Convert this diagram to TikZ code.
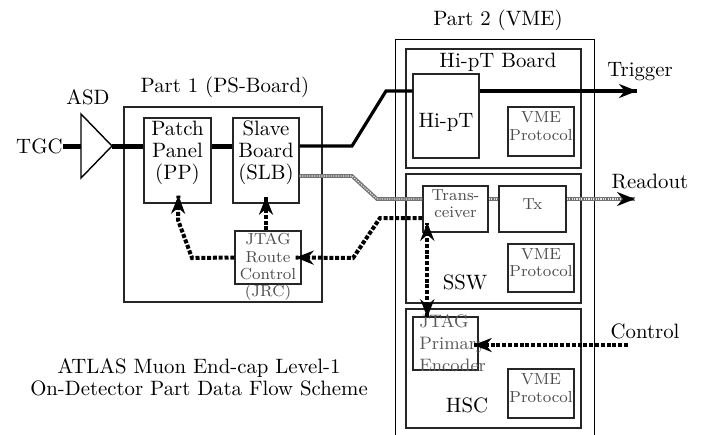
\documentclass[tikz,border=0pt]{standalone}
\usepackage{tikz}
\tikzset{endtip/.style = {decoration={markings, mark=at position 1 with {\arrow{Stealth[length=9pt,width=7pt,black]}}}, postaction={decorate}}}
\tikzset{bothtips/.style = {decoration={markings, mark=at position 0 with {\arrowreversed{Stealth[length=9pt,width=7pt,black]}}, mark=at position 1 with {\arrow{Stealth[length=9pt,width=7pt,black]}}}, postaction={decorate}}}
\tikzset{box/.style = {draw=black!85, line width=.7pt, inner sep=0pt, align=center}}
\tikzset{small/.style = {font=\fontsize{8}{8.6}\selectfont, text=black!70}}
\tikzset{sig/.style = {line width=1.6pt}}
\tikzset{jtag/.style = {line width=2pt, dash pattern=on 2pt off .9pt}}
\tikzset{rdout/.style = {draw=black!55, line width=1.8pt, postaction={draw=gray!20, line width=.6pt, dash pattern=on .6pt off .6pt}}}
\usetikzlibrary{calc,fit,arrows.meta,
                 decorations.markings}
\begin{document}
\begin{tikzpicture}[x=.5pt, y=-.5pt, font=\fontsize{10.4}{11}\selectfont]
\useasboundingbox (0,0) rectangle (717,434);
\node[box, fit={(124,107) (322,302)}] (p1) {};
\node (p1t) at (225,87) {Part 1 (PS-Board)};
\node[box, fit={(144,118) (211,203)}] (pp) {Patch\\Panel\\(PP)};
\node[box, fit={(233,118) (299,203)}] (slb) {Slave\\Board\\(SLB)};
\node[box, fit={(235,231) (301,284)}] (jrc) {};
\node[small, align=center] (jrct) at (268,267) {JTAG\\Route\\Control\\(JRC)};
\node[anchor=east, inner sep=0pt] (tgc) at (63,146) {TGC};
\draw[line width=.7pt] (81,114) -- (81,178) -- (112,146) -- cycle;
\coordinate (asdin) at (81,146);
\coordinate (asdout) at (112,146);
\node (asd) at (88,97) {ASD};
\draw (395,440) |- (594,39) -- (594,440);
\node (p2t) at (498,20) {Part 2 (VME)};
\node[box, fit={(406,49) (581,168)}] (hb) {};
\node (hbt) at (498,62) {Hi-pT Board};
\node[box, fit={(413,74) (479,158)}] (hipt) {};
\node (hiptt) at (446,122) {Hi-pT};
\node[box, small, fit={(508,107) (574,156)}] (vme1) {VME\\Protocol};
\node[box, fit={(406,174) (581,303)}] (ssw) {};
\node (sswt) at (465,282) {SSW};
\node[box, small, fit={(423,186) (488,232)}] (trans) {Trans-\\ceiver};
\node[box, small, fit={(499,186) (566,232)}] (tx) {Tx};
\node[box, small, fit={(508,244) (574,292)}] (vme2) {VME\\Protocol};
\node[box, fit={(406,309) (581,428)}] (hsc) {};
\node (hsct) at (467,405) {HSC};
\node[box, fit={(413,317) (478,370)}] (pe) {};
\node[anchor=west, align=left, font=\fontsize{9}{11}\selectfont, text=black!65] (pet) at (pe.west) {JTAG\\Primary\\Encoder};
\node[box, small, fit={(508,369) (574,418)}] (vme3) {VME\\Protocol};
\coordinate (trig) at (637,91);
\coordinate (ro) at (635,199);
\coordinate (ctl) at (628,345);
\node (trigt) at (640,72) {Trigger};
\node (rot) at (650,182) {Readout};
\node (ctlt) at (645,331) {Control};
\draw[line width=2.5pt] (tgc) -- (asdin);
\draw[line width=2.5pt] (asdout) -- (asdout -| pp.west) (pp.east |- asdout) -- (slb.west |- asdout);
\draw[sig] (slb.east |- asdout) -- (352,146) -- (386,91) -- (hipt.west |- trig);
\draw[sig, endtip] (hipt.east |- trig) -- (trig);
\draw[rdout] ($(slb.east)+(0,15.5)$) -- (352,176) -- (377,199) -- (trans.west |- ro);
\draw[rdout] (trans.east |- ro) -- (tx.west |- ro);
\draw[rdout, endtip] (tx.east |- ro) -- (ro);
\draw[jtag, endtip] ($(trans.west)+(0,9)$) -- (380,218) -- (353,258) -- ($(jrc.east)+(-6,0)$);
\draw[jtag, endtip] (jrc.west) -- (192,258) -- (178,220) -- ($(pp.south)+(1,-8)$);
\draw[jtag, endtip] (jrc.north -| slb.south) -- ($(slb.south)+(0,-7)$);
\draw[jtag, bothtips] ($(pe.north west)+(15,1)$) -- ($(trans.south west)+(5,-10)$);
\draw[jtag, endtip] (ctl) -- ($(pe.east)+(-5,1.5)$);
\node[align=center] (cap) at (199,377) {ATLAS Muon End-cap Level-1\\On-Detector Part Data Flow Scheme};
\end{tikzpicture}
\end{document}
